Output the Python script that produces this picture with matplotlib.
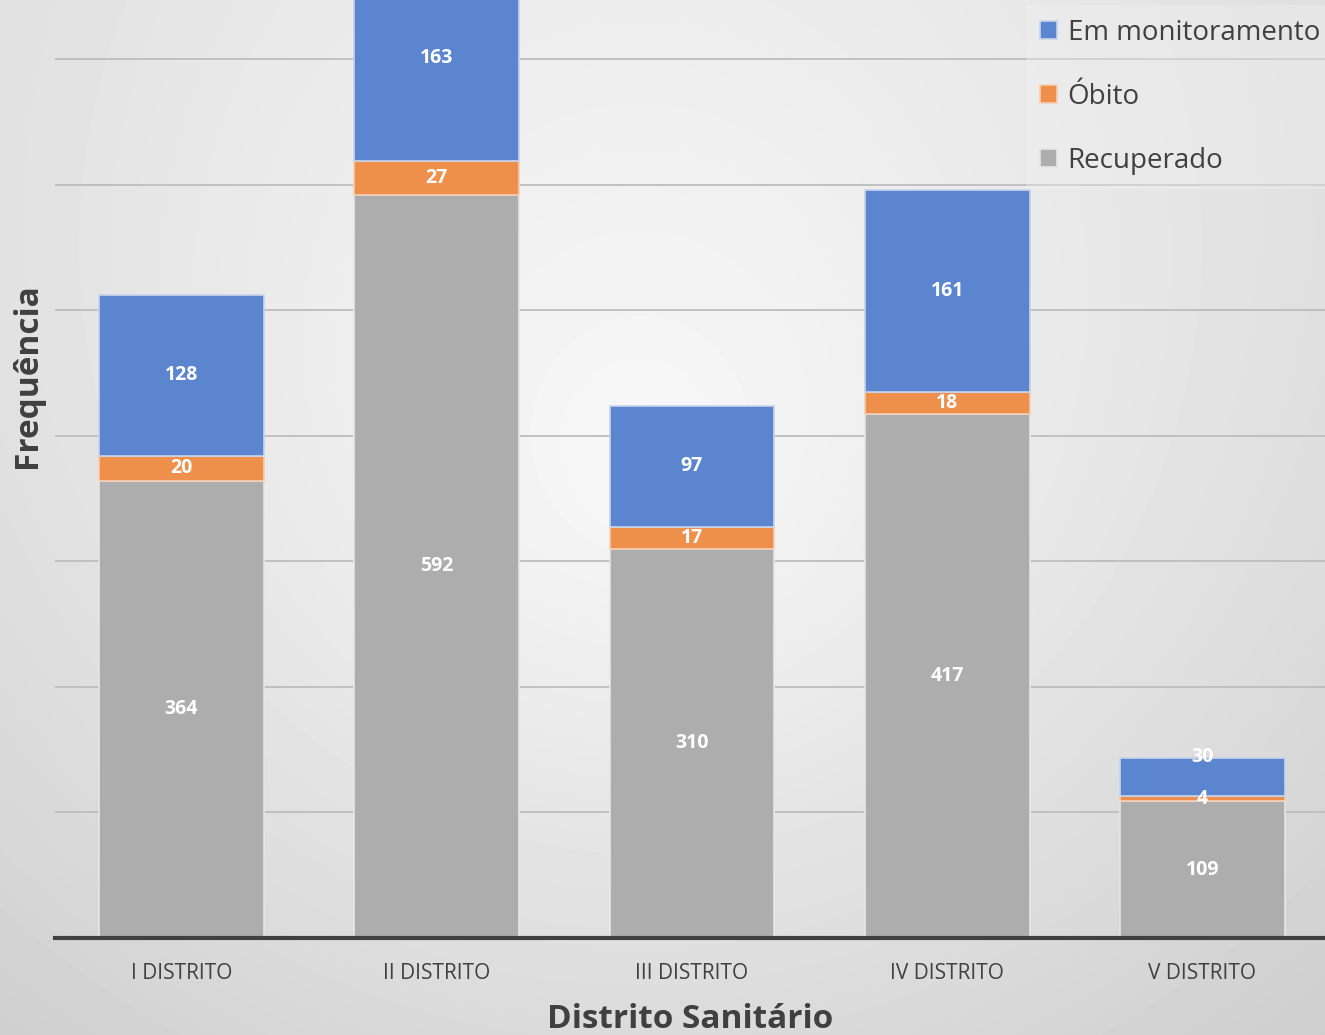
import numpy as np
import matplotlib.pyplot as plt

districts = ["I DISTRITO", "II DISTRITO", "III DISTRITO", "IV DISTRITO", "V DISTRITO"]
recuperado = [364, 592, 310, 417, 109]
obito = [20, 27, 17, 18, 4]
monitoramento = [128, 163, 97, 161, 30]

plt.rcParams['font.family'] = ['Open Sans', 'DejaVu Sans']

fig = plt.figure(figsize=(13.25, 10.35), dpi=100)

# grey background, lighter near the centre and darker towards the bottom
bg = fig.add_axes([0, 0, 1, 1], zorder=0)
yy, xx = np.mgrid[0:1035, 0:1325]
r = np.sqrt((xx - 640) ** 2 + (yy - 480) ** 2) / 800.0
shade = np.clip(1.0 - 0.12 * r - 0.06 * yy / 1035.0, 0.78, 1.0)
bg.imshow(shade, cmap="gray", vmin=0, vmax=1, aspect="auto")
bg.axis("off")

ax = fig.add_axes([55 / 1325, 97 / 1035, 1 - 55 / 1325, 938 / 1035], zorder=1)
ax.set_facecolor("none")

x = np.arange(len(districts))
w = 0.645
blue = "#5b85cf"
orange = "#ef8f4c"
grey = "#adadad"

b1 = ax.bar(x, recuperado, w, color=grey, edgecolor="#e6e6e6", linewidth=1.2,
            label="Recuperado", zorder=3)
b2 = ax.bar(x, obito, w, bottom=recuperado, color=orange, edgecolor="#f2d0b5",
            linewidth=1.2, label="Óbito", zorder=3)
bottom2 = [a + b for a, b in zip(recuperado, obito)]
b3 = ax.bar(x, monitoramento, w, bottom=bottom2, color=blue, edgecolor="#c8d4ec",
            linewidth=1.2, label="Em monitoramento", zorder=3)

lab = dict(color="white", fontsize=14, fontweight="bold", ha="center", va="center", zorder=5)
for i in range(len(districts)):
    ax.text(x[i], recuperado[i] / 2, str(recuperado[i]), **lab)
    ax.text(x[i], recuperado[i] + obito[i] / 2, str(obito[i]), **lab)
    if monitoramento[i] < 50:
        # small segment: label sits on the top edge
        ax.text(x[i], bottom2[i] + monitoramento[i] + 1, str(monitoramento[i]), **lab)
    else:
        ax.text(x[i], bottom2[i] + monitoramento[i] / 2, str(monitoramento[i]), **lab)

ax.set_ylim(0, 747)
ax.set_xlim(-0.495, 4.48)
ax.set_yticks(np.arange(0, 800, 100))
ax.yaxis.grid(True, color="#bdbdbd", linewidth=1.3, zorder=0)
ax.set_yticklabels([])
ax.tick_params(axis="y", length=0)
ax.tick_params(axis="x", length=0, pad=18, labelsize=15, labelcolor="#404040")
ax.set_xticks(x)
ax.set_xticklabels(districts)
for s in ["top", "right", "left"]:
    ax.spines[s].set_visible(False)
ax.spines["bottom"].set_color("#404040")
ax.spines["bottom"].set_linewidth(3)
ax.spines["bottom"].set_zorder(6)

ax.set_xlabel("Distrito Sanitário", fontsize=24, fontweight="bold", color="#404040", labelpad=14)
ax.set_ylabel("Frequência", fontsize=24, fontweight="bold", color="#404040")
ax.yaxis.set_label_coords(-0.009, 0.60)

handles = [b3, b2, b1]
leg = ax.legend(handles, [h.get_label() for h in handles], loc="upper right",
                bbox_to_anchor=(1.007, 0.995),
                fontsize=20, frameon=True, facecolor="#f2f2f2", edgecolor="none",
                framealpha=0.35, handlelength=0.6, handleheight=0.6,
                handletextpad=0.4, labelspacing=1.3, borderaxespad=0.0,
                borderpad=0.5, fancybox=False, labelcolor="#404040")
leg.set_zorder(7)

fig.savefig("out.png", dpi=100)
